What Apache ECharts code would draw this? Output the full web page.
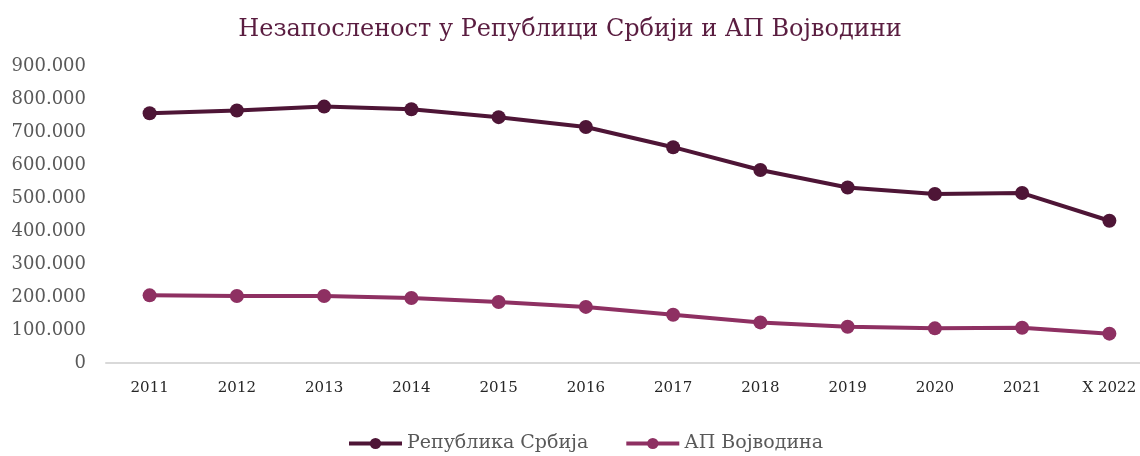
<!DOCTYPE html>
<html>
<head>
<meta charset="utf-8">
<title>Незапосленост</title>
<script src="https://cdn.jsdelivr.net/npm/echarts@6/dist/echarts.min.js"></script>
<style>
    html, body { margin: 0; padding: 0; background: #fff; }
    #main { width: 1140px; height: 456px; }
</style>
</head>
<body>
<div id="main"></div>
<script>
// подаци
var godine = ['2011', '2012', '2013', '2014', '2015', '2016', '2017', '2018', '2019', '2020', '2021', 'X 2022'];
var srbija = [757000, 765000, 777000, 769000, 745000, 715000, 654000, 585000, 532000, 512000, 515000, 431000];
var vojvodina = [205000, 203000, 203000, 197000, 185000, 170000, 146000, 123000, 110000, 105000, 107000, 89000];
var nazivi = ['Република Србија', 'АП Војводина'];

var font = 'DejaVu Serif';

/*broj sa tačkom kao separatorom hiljada*/
function formatBroj(v) {
    return String(v).replace(/\B(?=(\d{3})+(?!\d))/g, '.');
}

var chart = echarts.init(document.getElementById('main'));
var option = {
    animation: false,
    title: {
        text: 'Незапосленост у Републици Србији и АП Војводини',
        left: 'center',
        top: 13,
        textStyle: {
            fontFamily: font,
            fontSize: 24,
            fontWeight: 'normal',
            color: '#5a1d40'
        }
    },
    legend: {
        bottom: -2,
        left: 342,
        itemWidth: 53,
        itemHeight: 14,
        itemGap: 36,
        lineStyle: { width: 4 },
        textStyle: {
            fontFamily: font,
            fontSize: 19,
            color: '#595959'
        },
        data: nazivi
    },
    // mreža ide malo preko desne ivice, kao u originalu
    grid: {
        left: 106,
        width: 1047,
        top: 66,
        bottom: 93,
        outerBoundsMode: 'none'
    },
    xAxis: {
        type: 'category',
        boundaryGap: true,
        data: godine,
        axisLine: { lineStyle: { color: '#d9d9d9', width: 2 } },
        axisTick: { show: false },
        axisLabel: {
            fontFamily: font,
            fontSize: 15,
            color: '#262626',
            margin: 18,
            interval: 0
        }
    },
    yAxis: {
        type: 'value',
        min: 0,
        max: 900000,
        interval: 100000,
        splitLine: { show: false },
        axisLine: { show: false },
        axisTick: { show: false },
        axisLabel: {
            fontFamily: font,
            fontSize: 18,
            color: '#595959',
            margin: 20,
            formatter: formatBroj
        }
    },
    series: [
        {
            name: nazivi[0],
            type: 'line',
            data: srbija,
            symbol: 'circle',
            symbolSize: 14,
            itemStyle: { color: '#4e1536' },
            lineStyle: { color: '#4e1536', width: 4 }
        },
        {
            name: nazivi[1],
            type: 'line',
            data: vojvodina,
            symbol: 'circle',
            symbolSize: 14,
            itemStyle: { color: '#8e3062' },
            lineStyle: { color: '#8e3062', width: 4 }
        }
    ]
};
chart.setOption(option);
</script>
</body>
</html>
